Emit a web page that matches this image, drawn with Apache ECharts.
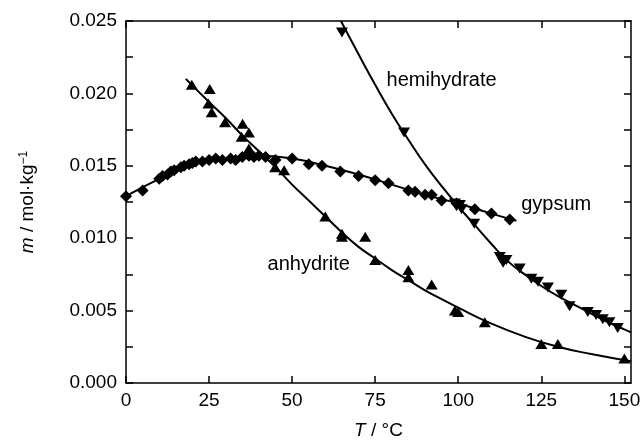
<!DOCTYPE html>
<html>
<head>
<meta charset="utf-8">
<script src="https://cdn.jsdelivr.net/npm/echarts@6/dist/echarts.min.js"></script>
<style>
  html, body { margin: 0; padding: 0; background: #fff; }
  #chart { width: 643px; height: 442px; }
</style>
</head>
<body>
<div id="chart"></div>
<script>
// ---- Data ----
// Gypsum (diamonds): [T °C, m mol/kg]
var gypsumPoints = [
  [0, 0.0129], [5, 0.0133], [10, 0.0141], [11, 0.0143], [12.5, 0.0144], [13.5, 0.0146],
  [14.5, 0.0147], [16.5, 0.0149], [17.5, 0.0150], [19, 0.0151], [20, 0.0152], [21, 0.0153],
  [23, 0.0153], [25, 0.0154], [27, 0.0155], [29, 0.0154], [31.5, 0.0155], [33, 0.0154],
  [35, 0.0156], [37, 0.0157], [38.5, 0.0156], [40, 0.0157], [42, 0.0156], [45, 0.0154],
  [50, 0.0155], [55, 0.0151], [59, 0.0150], [64.5, 0.0146], [70, 0.0143], [75, 0.0140],
  [79, 0.0138], [85, 0.0133], [87, 0.0132], [90, 0.0130], [92, 0.0130], [95, 0.0126],
  [99.5, 0.0124], [105, 0.0120], [110, 0.0117], [115.5, 0.0113]
];
var gypsumCurve = [
  [0, 0.0129], [10, 0.0141], [20, 0.0151], [30, 0.0155], [40, 0.0157], [50, 0.0155],
  [60, 0.0150], [70, 0.0144], [80, 0.0137], [90, 0.0130], [100, 0.0124], [110, 0.0117],
  [117.5, 0.0112]
];
// Hemihydrate (down triangles)
var hemihydratePoints = [
  [65, 0.0242], [83.7, 0.0173], [99, 0.0124], [99.5, 0.0122], [100.5, 0.0123], [101, 0.0120],
  [104.8, 0.0110], [112.5, 0.0087], [113.5, 0.0083], [114.5, 0.0085], [118.5, 0.0079],
  [122, 0.0072], [124, 0.0070], [127, 0.0066], [131, 0.0061], [133.5, 0.0053], [139, 0.0049],
  [141.5, 0.0047], [143.5, 0.0044], [145.5, 0.0042], [148, 0.0038]
];
var hemihydrateCurve = [
  [64.7, 0.0250], [70, 0.0227], [75, 0.0206], [80, 0.0186], [85, 0.0168], [90, 0.0151],
  [95, 0.0136], [100, 0.0122], [105, 0.0109], [110, 0.0096], [115, 0.0084], [120, 0.0075],
  [125, 0.0067], [130, 0.0060], [135, 0.0054], [140, 0.0048], [145, 0.0042], [150, 0.0037],
  [152, 0.0035]
];
// Anhydrite (up triangles)
var anhydritePoints = [
  [19.8, 0.0206], [25.2, 0.0203], [24.8, 0.0193], [25.8, 0.0187], [29.8, 0.0180],
  [35.1, 0.0179], [37, 0.0173], [34.8, 0.0170], [37, 0.0162], [44.9, 0.0149], [47.6, 0.0147],
  [60, 0.0115], [65, 0.0103], [65, 0.0101], [72, 0.0101], [75, 0.0085], [85, 0.0078],
  [85, 0.0073], [92, 0.0068], [99, 0.0050], [100, 0.0049], [108, 0.0042], [125, 0.0027],
  [130, 0.0027], [150, 0.0017]
];
var anhydriteCurve = [
  [18, 0.0210], [25, 0.0194], [30, 0.0183], [35, 0.0171], [40, 0.0160], [45, 0.0149],
  [50, 0.0137], [55, 0.0126], [60, 0.0115], [65, 0.0104], [70, 0.0094], [75, 0.0086],
  [80, 0.0078], [85, 0.0071], [90, 0.0064], [95, 0.0058], [100, 0.0052], [110, 0.0041],
  [120, 0.0032], [130, 0.0025], [140, 0.0020], [152, 0.0015]
];
// Curve labels: [T, m, text]
var curveLabels = [
  [95, 0.0209, 'hemihydrate'],
  [129.5, 0.01236, 'gypsum'],
  [55, 0.00816, 'anhydrite']
];
var xTicks = [0, 25, 50, 75, 100, 125, 150];
var yLabelTicks = [0, 0.005, 0.010, 0.015, 0.020, 0.025];

// ---- Chart ----
var FONT = '"Liberation Sans", Arial, sans-serif';
var chart = echarts.init(document.getElementById('chart'), null, { renderer: 'canvas' });

function isLabelY(v) {
  for (var i = 0; i < yLabelTicks.length; i++) if (Math.abs(yLabelTicks[i] - v) < 1e-9) return true;
  return false;
}
var axisLineStyle = { color: '#000', width: 1.5 };

var option = {
  animation: false,
  backgroundColor: '#fff',
  grid: { left: 126, right: 12, top: 21, bottom: 59, containLabel: false, outerBoundsMode: 'none' },
  xAxis: [{
    type: 'value', min: 0, max: 152, interval: 25,
    name: '{i|T} / °C', nameLocation: 'middle', nameGap: 38,
    nameTextStyle: { fontFamily: FONT, fontSize: 19, color: '#000', rich: { i: { fontStyle: 'italic', fontFamily: FONT, fontSize: 19, color: '#000' } } },
    axisLine: { show: true, onZero: false, lineStyle: axisLineStyle },
    axisTick: { show: true, inside: true, length: 7, lineStyle: axisLineStyle, customValues: xTicks },
    axisLabel: { fontFamily: FONT, fontSize: 19, color: '#000', margin: 8, customValues: xTicks },
    splitLine: { show: false }
  }, {
    type: 'value', min: 0, max: 152, interval: 25, position: 'top',
    axisLine: { show: true, onZero: false, lineStyle: axisLineStyle },
    axisTick: { show: true, inside: true, length: 7, lineStyle: axisLineStyle, customValues: xTicks },
    axisLabel: { show: false },
    splitLine: { show: false }
  }],
  yAxis: [{
    type: 'value', min: 0, max: 0.025, interval: 0.0025,
    name: '{i|m} / mol·kg{s|−1}', nameLocation: 'middle', nameGap: 88,
    nameTextStyle: { fontFamily: FONT, fontSize: 19, color: '#000',
      rich: { i: { fontStyle: 'italic', fontFamily: FONT, fontSize: 19, color: '#000' },
              s: { fontFamily: FONT, fontSize: 12, color: '#000', verticalAlign: 'top', padding: [0, 0, 8, 0] } } },
    axisLine: { show: true, onZero: false, lineStyle: axisLineStyle },
    axisTick: { show: true, inside: true, length: 7, lineStyle: axisLineStyle },
    axisLabel: { fontFamily: FONT, fontSize: 19, color: '#000', margin: 9,
      formatter: function (v) { return isLabelY(v) ? v.toFixed(3) : ''; } },
    splitLine: { show: false }
  }, {
    type: 'value', min: 0, max: 0.025, interval: 0.0025, position: 'right',
    axisLine: { show: true, onZero: false, lineStyle: axisLineStyle },
    axisTick: { show: true, inside: true, length: 7, lineStyle: axisLineStyle },
    axisLabel: { show: false },
    splitLine: { show: false }
  }],
  series: [
    { type: 'line', data: gypsumCurve, smooth: true, showSymbol: false, symbol: 'none',
      lineStyle: { color: '#000', width: 2 }, z: 3 },
    { type: 'line', data: hemihydrateCurve, smooth: true, showSymbol: false, symbol: 'none',
      lineStyle: { color: '#000', width: 2 }, z: 3 },
    { type: 'line', data: anhydriteCurve, smooth: true, showSymbol: false, symbol: 'none',
      lineStyle: { color: '#000', width: 2 }, z: 3 },
    { type: 'scatter', data: gypsumPoints, symbol: 'diamond', symbolSize: [12, 12],
      itemStyle: { color: '#000', opacity: 1 }, z: 4 },
    { type: 'scatter', data: hemihydratePoints, symbol: 'triangle', symbolRotate: 180, symbolSize: [12, 10],
      itemStyle: { color: '#000', opacity: 1 }, z: 4 },
    { type: 'scatter', data: anhydritePoints, symbol: 'triangle', symbolSize: [12, 10],
      itemStyle: { color: '#000', opacity: 1 }, z: 4 },
    { type: 'scatter', data: curveLabels.map(function (d) { return { value: [d[0], d[1]], name: d[2] }; }),
      symbolSize: 0, silent: true, itemStyle: { opacity: 1 },
      label: { show: true, position: 'inside', formatter: '{b}', fontFamily: FONT, fontSize: 20, color: '#000' }, z: 5 }
  ]
};
chart.setOption(option);
</script>
</body>
</html>
